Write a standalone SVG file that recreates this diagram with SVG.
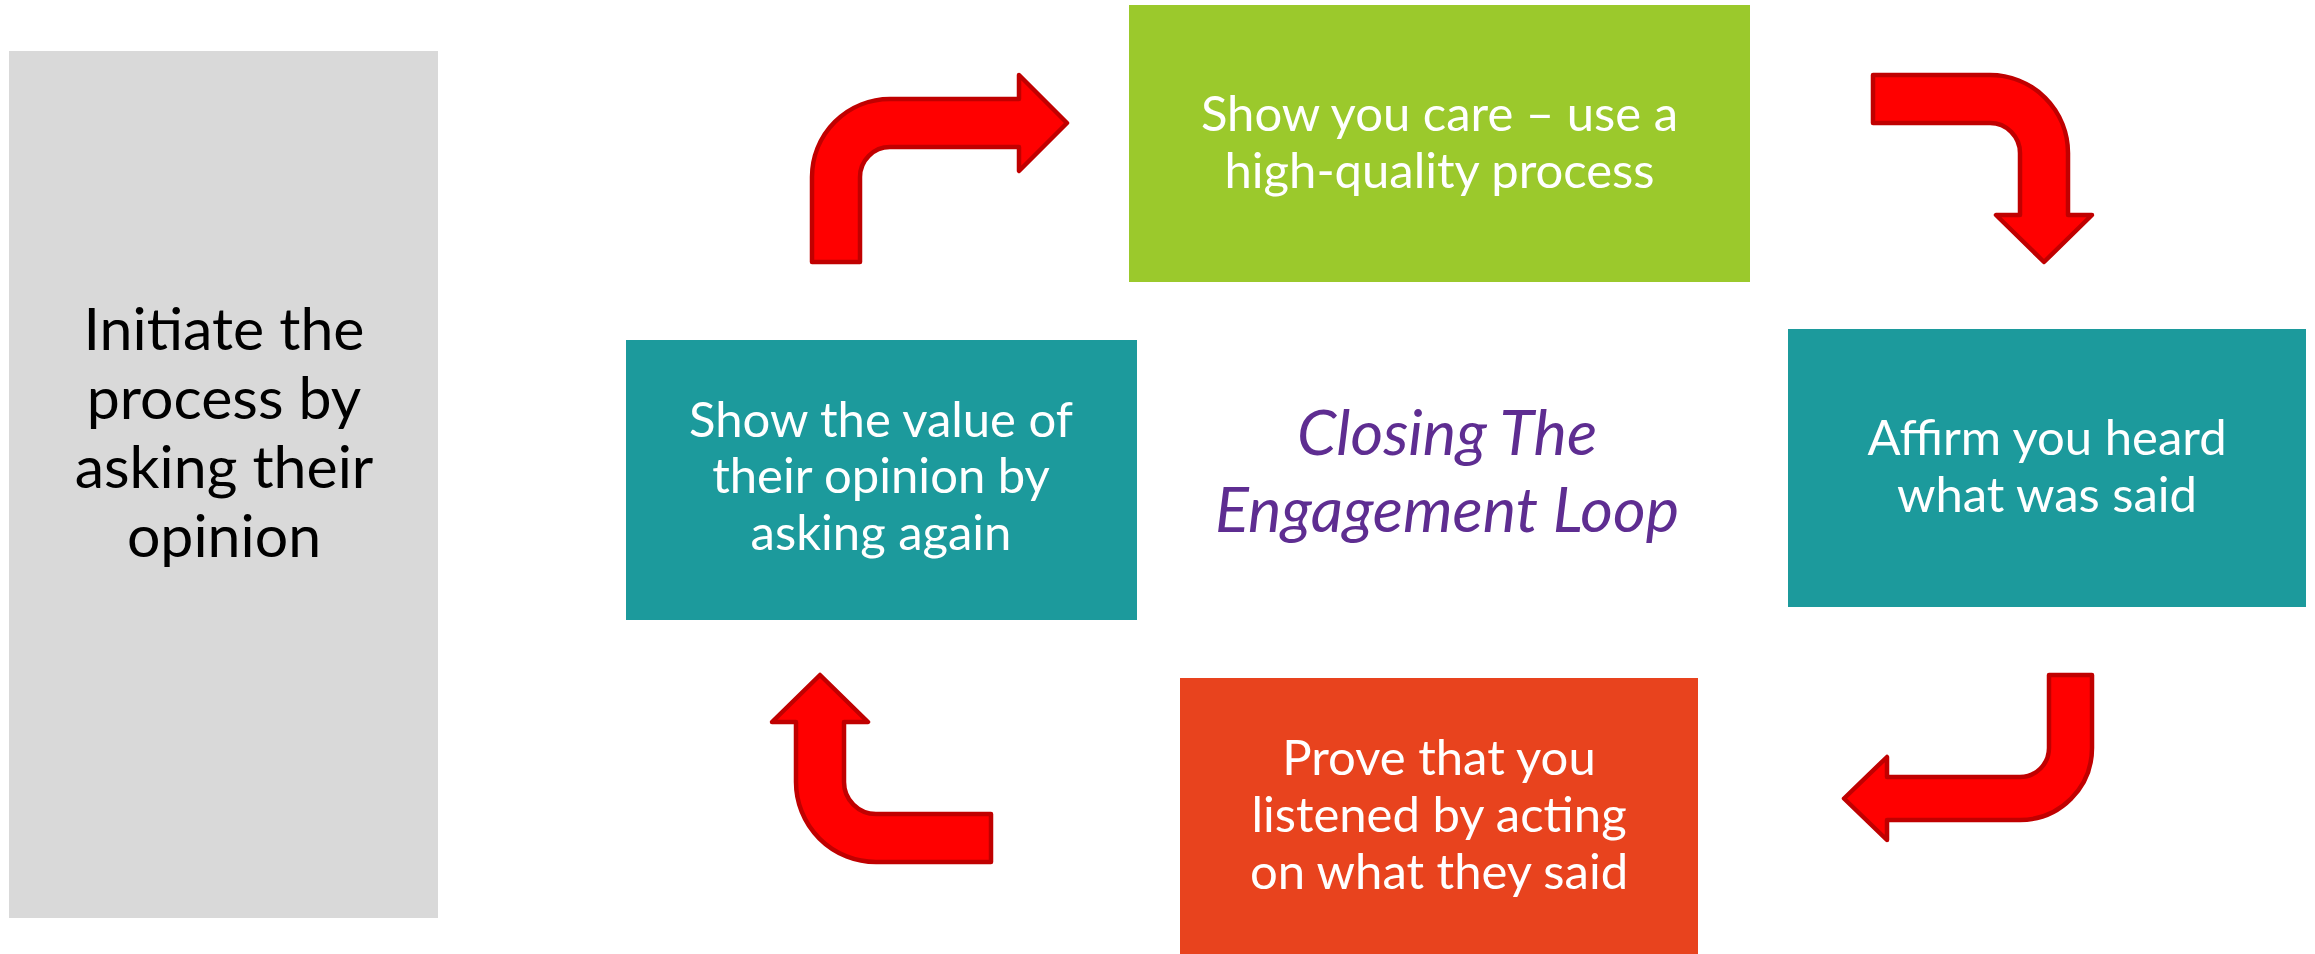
<svg xmlns="http://www.w3.org/2000/svg" width="2315" height="954" viewBox="0 0 2315 954">
<style>
.box{stroke:none}
.t{font-family:Lato,"Open Sans","Liberation Sans",sans-serif;text-anchor:middle;fill:#ffffff;font-size:49px}
.g{fill:#000000;font-size:59px}
.c{fill:#5E2D91;font-style:italic;font-size:63px}
.arr{fill:#FF0000;stroke:#C00000;stroke-width:4.5;stroke-linejoin:round}
</style>
<rect width="2315" height="954" fill="#ffffff"/>
<g id="start">
<rect class="box" x="9" y="51" width="429" height="867" fill="#D9D9D9"/>
<text class="t g" x="224"><tspan x="224" y="350">Initiate the</tspan><tspan x="224" y="419">process by</tspan><tspan x="224" y="488">asking their</tspan><tspan x="224" y="557">opinion</tspan></text>
</g>
<g id="care">
<rect class="box" x="1129" y="5" width="621" height="277" fill="#9BC92C"/>
<text class="t"><tspan x="1439.5" y="131">Show you care – use a</tspan><tspan x="1439.5" y="188">high-quality process</tspan></text>
</g>
<g id="affirm">
<rect class="box" x="1788" y="329" width="518" height="278" fill="#1C9A9C"/>
<text class="t"><tspan x="2047" y="455">Affirm you heard</tspan><tspan x="2047" y="512">what was said</tspan></text>
</g>
<g id="prove">
<rect class="box" x="1180" y="678" width="518" height="276" fill="#E8431E"/>
<text class="t"><tspan x="1439" y="775">Prove that you</tspan><tspan x="1439" y="832">listened by acting</tspan><tspan x="1439" y="889">on what they said</tspan></text>
</g>
<g id="value">
<rect class="box" x="626" y="340" width="511" height="280" fill="#1C9A9C"/>
<text class="t"><tspan x="881" y="437">Show the value of</tspan><tspan x="881" y="493">their opinion by</tspan><tspan x="881" y="550">asking again</tspan></text>
</g>
<g id="title">
<text class="t c"><tspan x="1447" y="455">Closing The</tspan><tspan x="1447" y="532">Engagement Loop</tspan></text>
</g>
<g id="connectors">
<path class="arr" d="M812 262 L812 177 A78 78 0 0 1 890 99 L1019 99 L1019 75 L1067 123 L1019 171 L1019 147 L890 147 A30 30 0 0 0 860 177 L860 262 Z"/>
<path class="arr" d="M1873 75 L1990 75 A78 78 0 0 1 2068 153 L2068 215 L2092 215 L2044 262 L1996 215 L2020 215 L2020 153 A30 30 0 0 0 1990 123 L1873 123 Z"/>
<path class="arr" d="M2049 675 L2092 675 L2092 748 A72 72 0 0 1 2020 820 L1887 820 L1887 840 L1844 798.5 L1887 757 L1887 777 L2020 777 A29 29 0 0 0 2049 748 Z"/>
<path class="arr" d="M991 862 L876 862 A80 80 0 0 1 796 782 L796 722 L772 722 L820 675 L868 722 L844 722 L844 782 A32 32 0 0 0 876 814 L991 814 Z"/>
</g>
</svg>
